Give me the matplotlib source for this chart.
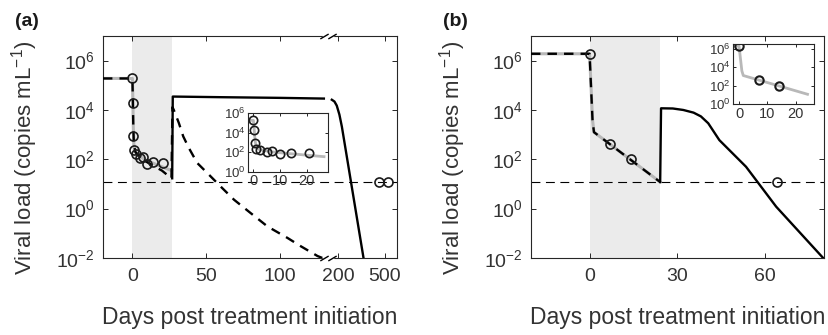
import numpy as np
import matplotlib
matplotlib.use("Agg")
import matplotlib.pyplot as plt
from matplotlib.transforms import blended_transform_factory

plt.rcParams['font.family'] = ['Liberation Sans', 'DejaVu Sans']
plt.rcParams['mathtext.fontset'] = 'custom'
plt.rcParams['mathtext.rm'] = 'Liberation Sans'
plt.rcParams['mathtext.it'] = 'Liberation Sans:italic'
plt.rcParams['mathtext.bf'] = 'Liberation Sans:bold'

TXT = '#333333'
GRAY = '#b8b8b8'
SHADE = '#ebebeb'
LOD = 12  # detection limit (copies/mL)

# ---------------- panel (a) data ----------------
treat_a = [0, 27]
pts_a_days = [0, 0.25, 0.6, 1, 2.5, 5, 7, 10, 14, 21]
pts_a_vl = [2.0e5, 2.0e4, 9.0e2, 2.4e2, 1.7e2, 1.1e2, 1.2e2, 63, 80, 74]
late_a_days = [460, 520]
late_a_vl = [LOD, LOD]

fit_a_days = [-20, 0, 0.3, 0.6, 1, 2, 4, 8, 14, 20, 26.5]
fit_a_vl = [1.9e5, 1.9e5, 2.5e4, 2.0e3, 4.0e2, 2.0e2, 1.5e2, 1.0e2, 70, 50, 35]

dash_a_days = [-20, 0, 0.3, 0.6, 1, 2, 4, 8, 14, 20, 26.5, 27.2, 28.1, 31.5, 34.5, 38.3,
               44.0, 50.8, 59.9, 69.0, 80.3, 91.7, 105.3, 114.3, 125.7, 129]
dash_a_vl = [1.9e5, 1.9e5, 2.5e4, 2.0e3, 4.0e2, 2.0e2, 1.4e2, 90, 55, 35, 17, 1.3e4, 1.0e4,
             3.0e3, 8.5e2, 2.9e2, 71, 28, 7.9, 2.3, 0.66, 0.19, 0.065, 0.030, 0.012, 0.01]

solid_a_pre_days = [27.0, 27.4, 60, 100, 130]
solid_a_pre_vl = [17, 3.5e4, 3.3e4, 3.1e4, 2.9e4]
solid_a_post_days = [157, 174, 189, 206, 222, 362]
solid_a_post_vl = [2.6e4, 2.2e4, 1.5e4, 6.5e3, 2.1e3, 0.01]

# ---------------- panel (b) data ----------------
treat_b = [0, 24]
pts_b_days = [0, 7, 14, 64]
pts_b_vl = [1.9e6, 4.2e2, 1.0e2, LOD]

fit_b_days = [-20, 0, 1.0, 1.5, 24.1]
fit_b_vl = [1.9e6, 1.9e6, 4.0e3, 1.26e3, 12]

solid_b_days = [24.1, 24.4, 28.4, 32.0, 35.5, 38.0, 40.5, 44.3, 53.4, 63.7, 79.9]
solid_b_vl = [12, 1.17e4, 1.15e4, 1.0e4, 7.8e3, 5.5e3, 2.9e3, 6.0e2, 50, 1.2, 0.0095]

# broken x axis for panel (a)
BRK = [130, 157]
GAP = 5.4
RATIO = 0.105
xp = [-1e4, BRK[0], BRK[1], 1e4]
fp = [-1e4, BRK[0], BRK[0] + GAP, BRK[0] + GAP + (1e4 - BRK[1]) * RATIO]


def fwd(x):
    return np.interp(x, xp, fp)


def inv(x):
    return np.interp(x, fp, xp)


def style(ax, fs=14, length=3.5):
    ax.minorticks_off()
    ax.tick_params(direction='in', top=True, right=True, length=length,
                   width=0.7, colors='#262626', labelcolor=TXT, labelsize=fs)
    for s in ax.spines.values():
        s.set_color('#262626')
        s.set_linewidth(0.8)


fig = plt.figure(figsize=(8.29, 3.35), dpi=100)

# ---------------- panel (a) ----------------
axa = fig.add_axes([0.1242, 0.2299, 0.3546, 0.6627])
axa.set_xscale('function', functions=(fwd, inv))
axa.set_yscale('log')
axa.axvspan(*treat_a, color=SHADE, lw=0, zorder=0)
axa.axhline(LOD, color='k', lw=0.8, dashes=(8, 5), zorder=1)
axa.plot(fit_a_days, fit_a_vl, color=GRAY, lw=2.2, zorder=2)
axa.plot(dash_a_days, dash_a_vl, color='k', lw=1.7, dashes=(4, 3), zorder=3)
axa.plot(solid_a_pre_days, solid_a_pre_vl, color='k', lw=1.7, zorder=3)
axa.plot(solid_a_post_days, solid_a_post_vl, color='k', lw=1.7, zorder=3)
axa.plot(pts_a_days, pts_a_vl, 'o', ms=6.5, mfc='none', mec='#1a1a1a', mew=1.2, zorder=4)
axa.plot(late_a_days, late_a_vl, 'o', ms=6.5, mfc='none', mec='#1a1a1a', mew=1.2, zorder=4)
axa.set_xlim(-20, 578)
axa.set_ylim(1e-2, 1e7)
axa.set_xticks([0, 50, 100, 200, 500])
axa.set_yticks([1e-2, 1e0, 1e2, 1e4, 1e6])
style(axa)
axa.tick_params(axis='x', pad=7)
axa.tick_params(axis='y', pad=6)
axa.set_xlabel('Days post treatment initiation', fontsize=16.5, color=TXT, labelpad=15)
axa.set_ylabel('Viral load (copies mL$^{-1}$)', fontsize=16, color=TXT)
axa.yaxis.set_label_coords(-0.215, 0.45)

# break marks
bt = blended_transform_factory(axa.transData, axa.transAxes)
for yb in (0, 1):
    axa.plot(BRK, [yb, yb], color='white', lw=2.5, transform=bt, clip_on=False, zorder=5)
    axa.plot(BRK, [yb, yb], ls='none', marker=[(-1.7, -1), (1.7, 1)], ms=6,
             mec='k', mew=1.0, transform=bt, clip_on=False, zorder=6)

# inset (a)
ina = fig.add_axes([0.2992, 0.4875, 0.0965, 0.1743])
ina.set_yscale('log')
ina.plot(fit_a_days, fit_a_vl, color=GRAY, lw=2.0)
ina.plot(pts_a_days, pts_a_vl, 'o', ms=6, mfc='none', mec='#1a1a1a', mew=1.2)
ina.set_xlim(-2, 28)
ina.set_ylim(1, 1e6)
ina.set_xticks([0, 10, 20])
ina.set_yticks([1e0, 1e2, 1e4, 1e6])
style(ina, fs=9.5, length=2.5)
ina.tick_params(axis='x', labelsize=10.5, pad=2)
ina.tick_params(axis='y', pad=2)

# ---------------- panel (b) ----------------
axb = fig.add_axes([0.6405, 0.2299, 0.3534, 0.6627])
axb.set_yscale('log')
axb.axvspan(*treat_b, color=SHADE, lw=0, zorder=0)
axb.axhline(LOD, color='k', lw=0.8, dashes=(8, 5), zorder=1)
axb.plot(fit_b_days, fit_b_vl, color=GRAY, lw=2.2, zorder=2)
axb.plot(fit_b_days, fit_b_vl, color='k', lw=1.7, dashes=(4, 3), zorder=3)
axb.plot(solid_b_days, solid_b_vl, color='k', lw=1.7, zorder=3)
axb.plot(pts_b_days, pts_b_vl, 'o', ms=6.5, mfc='none', mec='#1a1a1a', mew=1.2, zorder=4)
axb.set_xlim(-20, 80)
axb.set_ylim(1e-2, 1e7)
axb.set_xticks([0, 30, 60])
axb.set_yticks([1e-2, 1e0, 1e2, 1e4, 1e6])
style(axb)
axb.tick_params(axis='x', pad=7)
axb.tick_params(axis='y', pad=6)
axb.set_xlabel('Days post treatment initiation', fontsize=16.5, color=TXT, labelpad=15)
axb.set_ylabel('Viral load (copies mL$^{-1}$)', fontsize=16, color=TXT)
axb.yaxis.set_label_coords(-0.215, 0.45)

# inset (b)
inb = fig.add_axes([0.8846, 0.6887, 0.0977, 0.18])
inb.set_yscale('log')
inb.plot(fit_b_days, fit_b_vl, color=GRAY, lw=2.0)
inb.plot(pts_b_days[:3], pts_b_vl[:3], 'o', ms=6, mfc='none', mec='#1a1a1a', mew=1.5)
inb.set_xlim(-2, 26.5)
inb.set_ylim(1, 10 ** 6.5)
inb.set_xticks([0, 10, 20])
inb.set_yticks([1e0, 1e2, 1e4, 1e6])
style(inb, fs=9.5, length=2.5)
inb.tick_params(axis='x', labelsize=10.5, pad=2)
inb.tick_params(axis='y', pad=2)

fig.text(0.018, 0.96, '(a)', fontsize=14, fontweight='bold', va='top', color='#1a1a1a')
fig.text(0.534, 0.96, '(b)', fontsize=14, fontweight='bold', va='top', color='#1a1a1a')

fig.savefig('out.png', dpi=100)
